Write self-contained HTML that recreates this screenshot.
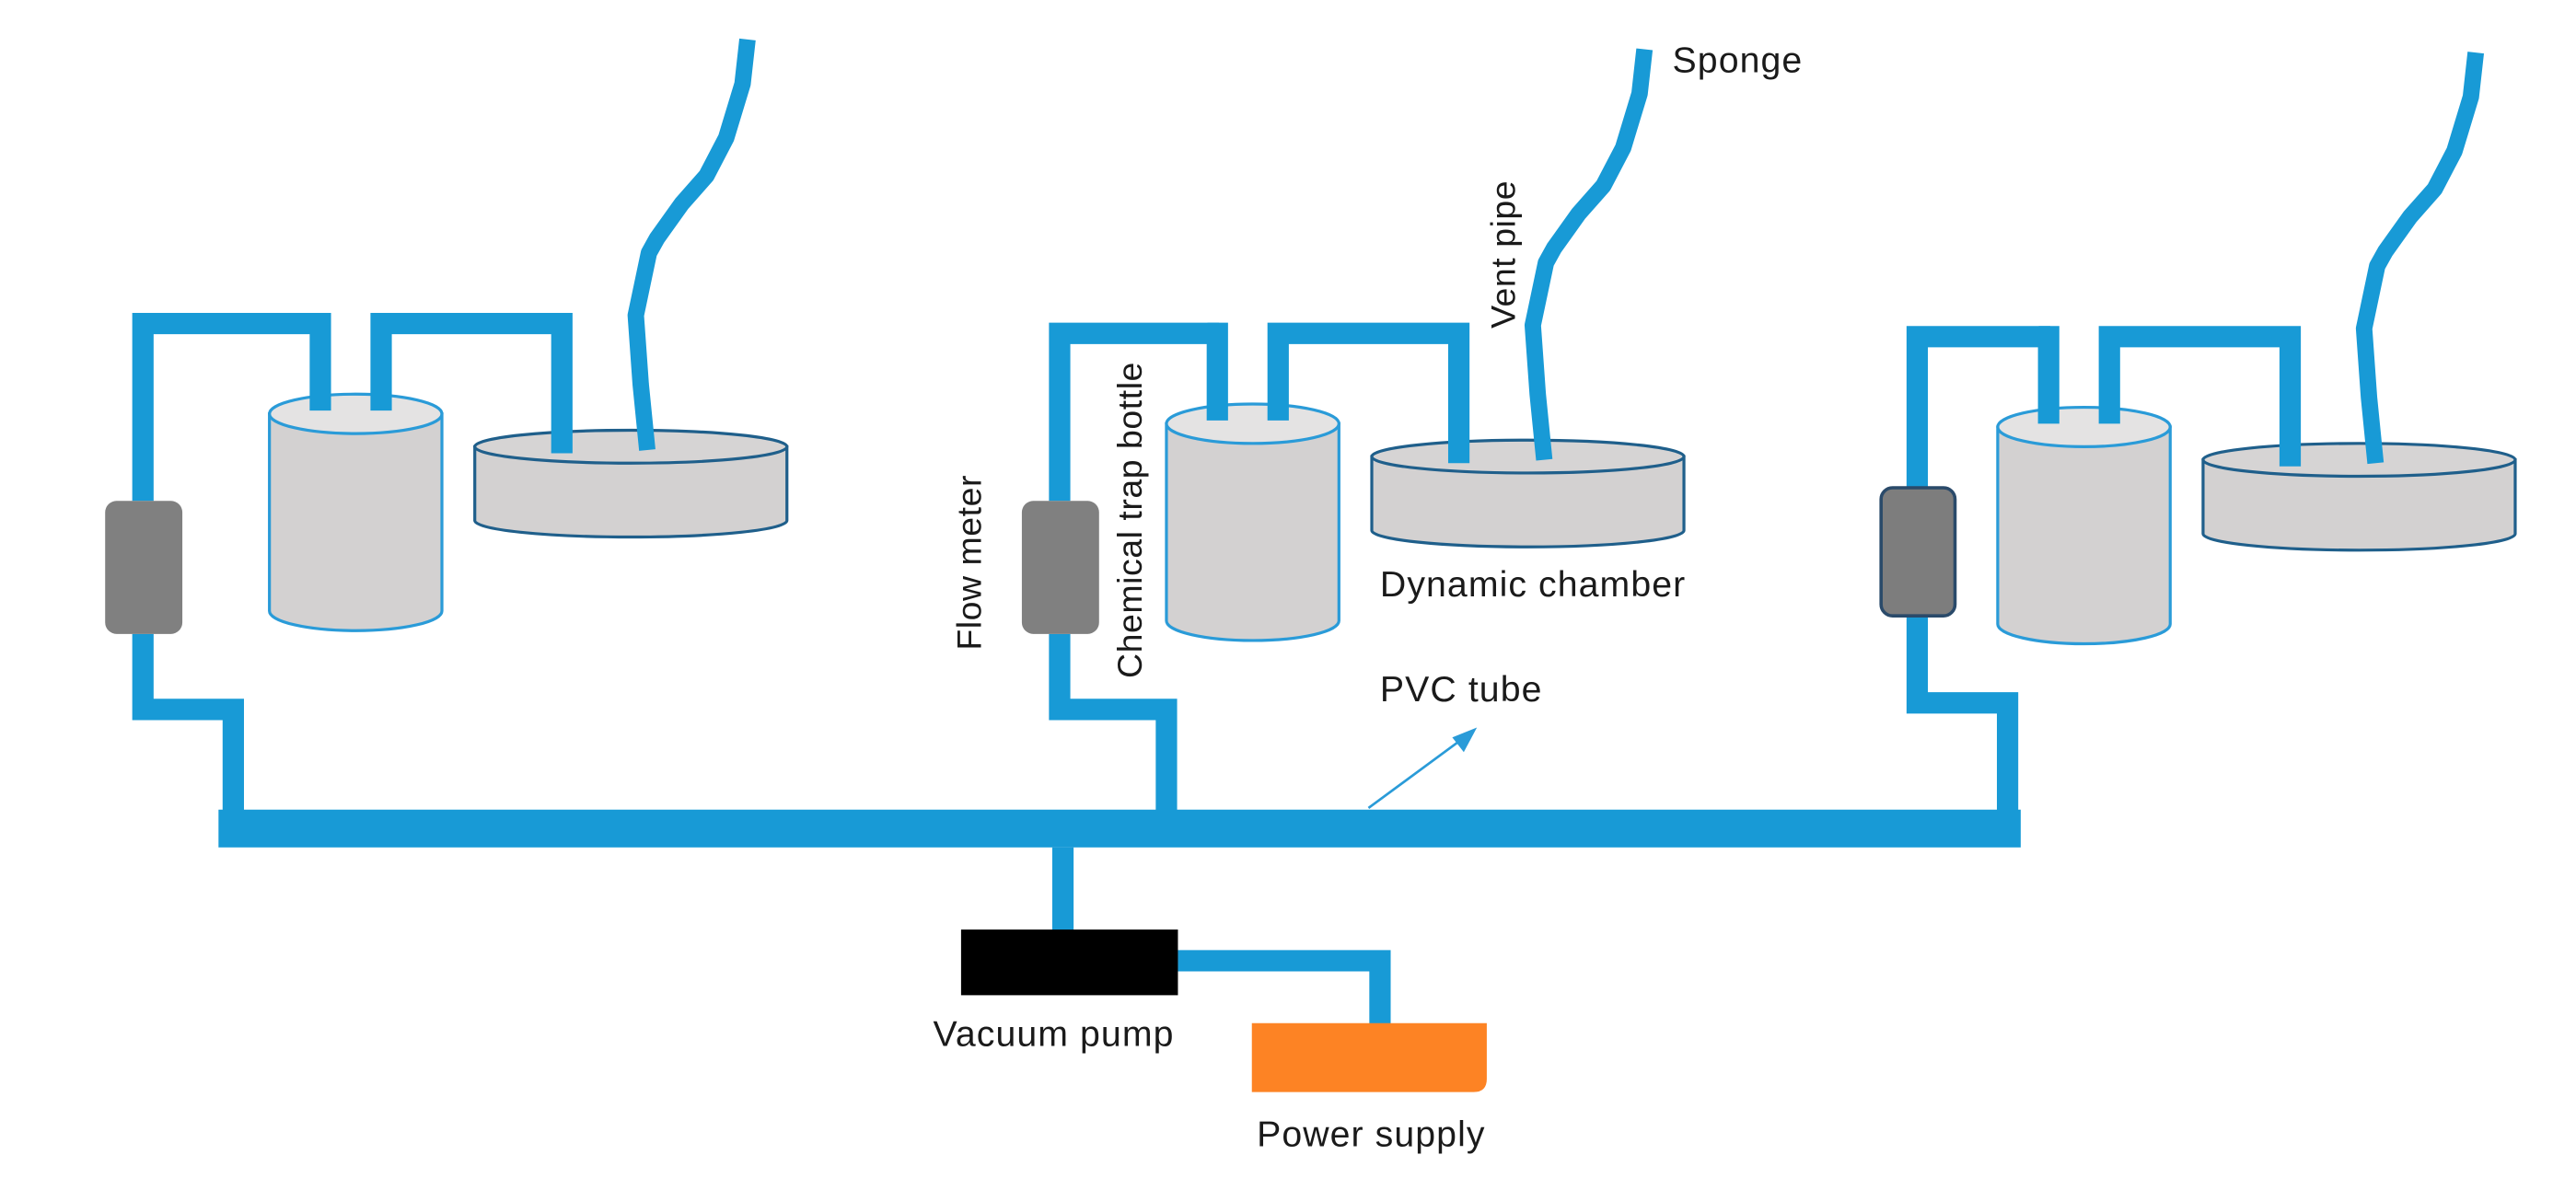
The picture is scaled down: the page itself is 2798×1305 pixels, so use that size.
<!DOCTYPE html>
<html><head><meta charset="utf-8"><style>
html,body{margin:0;padding:0;background:#fff;}
svg{display:block;}
text{font-family:"Liberation Sans",sans-serif;font-size:22px;fill:#1a1a1a;letter-spacing:0.6px;}
text.r{font-size:21px;letter-spacing:0.3px;}
</style></head><body>
<svg width="2798" height="1305" viewBox="0 0 1568 731.3" xmlns="http://www.w3.org/2000/svg">
<defs>
<g id="unit">
  <!-- bottle -->
  <path d="M164,252 L164,372 A52.5,12 0 0 0 269,372 L269,252 Z" fill="#d3d1d1" stroke="#2a9bd8" stroke-width="1.8"/>
  <ellipse cx="216.5" cy="252" rx="52.5" ry="12" fill="#e4e3e3" stroke="#2a9bd8" stroke-width="1.8"/>
  <!-- chamber -->
  <path d="M289,272 L289,317 A95,10 0 0 0 479,317 L479,272 Z" fill="#d3d1d1" stroke="#1f5f8b" stroke-width="1.8"/>
  <ellipse cx="384" cy="272" rx="95" ry="10" fill="#d6d4d4" stroke="#1f5f8b" stroke-width="1.8"/>
  <!-- pipes -->
  <path d="M189,197 L195,197 L195,250" fill="none" stroke="#189ad6" stroke-width="13"/>
  <path d="M232,250 L232,197 L342,197 L342,276" fill="none" stroke="#189ad6" stroke-width="13"/>
  <path d="M455,24 L452,51 L442,84 L430,107 L415,124 L400,145 L395,154 L387,192 L390,234 L394,274" fill="none" stroke="#189ad6" stroke-width="10" stroke-linejoin="round"/>
</g>
</defs>

<!-- lower pipes -->
<path d="M87,386 L87,432 L142,432 L142,504" fill="none" stroke="#189ad6" stroke-width="13"/>
<path d="M645,386 L645,432 L710,432 L710,494" fill="none" stroke="#189ad6" stroke-width="13"/>
<path d="M1167,376 L1167,428 L1222,428 L1222,504" fill="none" stroke="#189ad6" stroke-width="13"/>
<rect x="133" y="493" width="1097" height="23" fill="#189ad6"/>
<path d="M647,516 L647,570" fill="none" stroke="#189ad6" stroke-width="13"/>
<path d="M717,585 L840,585 L840,627" fill="none" stroke="#189ad6" stroke-width="13"/>

<!-- left legs -->
<path d="M87,305 L87,197 L196,197" fill="none" stroke="#189ad6" stroke-width="13"/>
<path d="M645,305 L645,203 L742,203" fill="none" stroke="#189ad6" stroke-width="13"/>
<path d="M1167,297 L1167,205 L1248,205" fill="none" stroke="#189ad6" stroke-width="13"/>

<use href="#unit"/>
<use href="#unit" transform="translate(546,6)"/>
<use href="#unit" transform="translate(1052,8)"/>

<!-- flow meters -->
<rect x="64" y="305" width="47" height="81" rx="7" fill="#808080"/>
<rect x="622" y="305" width="47" height="81" rx="7" fill="#808080"/>
<rect x="1145" y="297" width="45" height="78" rx="7" fill="#7d7d7d" stroke="#2a4a6a" stroke-width="2"/>

<!-- pump & power -->
<rect x="585" y="566" width="132" height="40" fill="#000"/>
<path d="M762,623 L905,623 L905,657 Q905,665 897,665 L762,665 Z" fill="#fd8324"/>

<!-- arrow -->
<line x1="833" y1="492" x2="890" y2="450" stroke="#2a9bd8" stroke-width="1.5"/>
<polygon points="899,443 884,449 891,458" fill="#2a9bd8"/>

<!-- labels -->
<text x="568" y="637">Vacuum pump</text>
<text x="765" y="698">Power supply</text>
<text x="1018" y="44">Sponge</text>
<text x="840" y="363">Dynamic chamber</text>
<text x="840" y="427">PVC tube</text>
<text class="r" transform="translate(922,200) rotate(-90)">Vent pipe</text>
<text class="r" transform="translate(597,396) rotate(-90)">Flow meter</text>
<text class="r" transform="translate(695,413) rotate(-90)">Chemical trap bottle</text>
</svg>
</body></html>
